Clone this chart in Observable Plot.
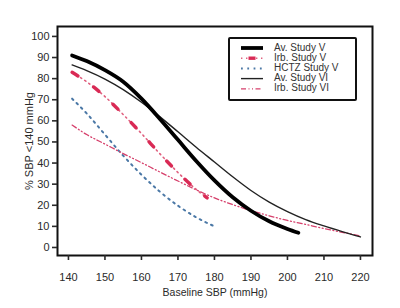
<!DOCTYPE html>
<html>
<head>
<meta charset="utf-8">
<script src="https://cdn.jsdelivr.net/npm/d3@7"></script>
<script src="https://cdn.jsdelivr.net/npm/@observablehq/plot@0.6"></script>
<style>
  body { margin: 0; background: #fff; }
  #wrap { position: relative; width: 400px; height: 308px; font-family: "Liberation Sans", Arial, sans-serif; }
  #legend { position: absolute; left: 228px; top: 37px; width: 125px; height: 60px; border: 2px solid #111; border-radius: 2px; background: #fff; }
  #legend svg { position: absolute; left: 0; top: 0; }
  #legend .lab { position: absolute; left: 44px; font-size: 10px; color: #333; line-height: 10px; white-space: nowrap; }
</style>
</head>
<body>
<div id="wrap"></div>
<script>
// Data
const xAvV   = [141, 145, 150, 155, 160, 165, 170, 175, 180, 185, 190, 195, 200, 203];
const yAvV   = [91, 88.3, 84, 78.5, 70.5, 61, 51, 41, 31.8, 23.8, 17.4, 12.4, 8.8, 7];

const xIrbV  = [141, 145, 150, 155, 160, 165, 170, 175, 178];
const yIrbV  = [83, 78.5, 71.5, 63, 54, 44.5, 35.5, 27.5, 23.5];

const xHctzV = [141, 145, 150, 155, 160, 165, 170, 175, 180];
const yHctzV = [70.5, 63.5, 53.5, 43.5, 34.5, 26.5, 19.8, 14.3, 10];

const xAvVI  = [141, 145, 150, 155, 160, 165, 170, 175, 180, 185, 190, 195, 200, 205, 210, 215, 220];
const yAvVI  = [86.5, 83.8, 79.8, 74.8, 68.8, 62, 54.8, 47.5, 40.5, 33.5, 27, 21.5, 17, 13.2, 10.2, 7.5, 5];

const xIrbVI = [141, 145, 150, 155, 160, 165, 170, 175, 180, 185, 190, 195, 200, 205, 210, 215, 220];
const yIrbVI = [58, 53.5, 49, 44.5, 40.2, 35.8, 31.5, 27.3, 23.5, 20.3, 17.5, 15, 12.8, 10.9, 9, 7.2, 5.5];

const seriesNames = ["Av. Study V", "Irb. Study V", "HCTZ Study V", "Av. Study VI", "Irb. Study VI"];
const xTicks = [140, 150, 160, 170, 180, 190, 200, 210, 220];
const yTicks = [0, 10, 20, 30, 40, 50, 60, 70, 80, 90, 100];

const styles = {
  "Av. Study V":   {stroke: "#000", strokeWidth: 3.8, strokeDasharray: null},
  "Irb. Study V":  {stroke: "#d92a55", strokeWidth: 3.4, strokeDasharray: "7 19", under: {strokeWidth: 1.6, strokeDasharray: "1.4 3.6", stroke: "#e0607f"}},
  "HCTZ Study V":  {stroke: "#4b78a6", strokeWidth: 2, strokeDasharray: "1.8 4.5"},
  "Av. Study VI":  {stroke: "#222", strokeWidth: 1.4, strokeDasharray: null},
  "Irb. Study VI": {stroke: "#d6406c", strokeWidth: 1.3, strokeDasharray: "5 2.5 1 2.5 1 2.5"}
};

const toRows = (xs, ys) => xs.map((x, i) => ({x, y: ys[i]}));
const data = {
  "Av. Study V": toRows(xAvV, yAvV),
  "Irb. Study V": toRows(xIrbV, yIrbV),
  "HCTZ Study V": toRows(xHctzV, yHctzV),
  "Av. Study VI": toRows(xAvVI, yAvVI),
  "Irb. Study VI": toRows(xIrbVI, yIrbVI)
};

const drawOrder = ["HCTZ Study V", "Irb. Study VI", "Irb. Study V", "Av. Study VI", "Av. Study V"];

const lineMarks = [];
for (const name of drawOrder) {
  const s = styles[name];
  if (s.under) {
    lineMarks.push(Plot.line(data[name], {x: "x", y: "y", curve: "monotone-x",
      stroke: s.under.stroke, strokeWidth: s.under.strokeWidth, strokeDasharray: s.under.strokeDasharray}));
  }
  lineMarks.push(Plot.line(data[name], {x: "x", y: "y", curve: "monotone-x",
    stroke: s.stroke, strokeWidth: s.strokeWidth, strokeDasharray: s.strokeDasharray}));
}

const chart = Plot.plot({
  width: 400,
  height: 308,
  marginLeft: 57,
  marginRight: 28,
  marginTop: 26,
  marginBottom: 53,
  style: {fontFamily: "'Liberation Sans', Arial, sans-serif", fontSize: "11px", color: "#2a2a2a", background: "#fff"},
  x: {domain: [137, 223.3]},
  y: {domain: [-3.8, 104.7]},
  marks: [
    ...lineMarks,
    Plot.frame({stroke: "#111", strokeWidth: 2}),
    Plot.axisX({ticks: xTicks, tickSize: 5, tickPadding: 13, strokeWidth: 1.6,
      label: null}),
    Plot.axisX({ticks: [], label: "Baseline SBP (mmHg)", labelAnchor: "center", labelArrow: "none", labelOffset: 40, fontSize: 10.5}),
    Plot.axisY({ticks: yTicks, tickSize: 5, tickPadding: 3, strokeWidth: 1.6,
      label: "% SBP <140 mmHg", labelAnchor: "center", labelArrow: "none", labelOffset: 32})
  ]
});

const wrap = document.getElementById("wrap");
wrap.appendChild(chart);

// Legend (inside plot, top-right)
const legend = document.createElement("div");
legend.id = "legend";
const rowY = [9, 19.2, 29.4, 39.6, 49.8];
let svg = `<svg width="125" height="60">`;
seriesNames.forEach((name, i) => {
  const s = styles[name];
  const y = rowY[i];
  if (name === "Irb. Study V") {
    svg += `<line x1="11" x2="33" y1="${y}" y2="${y}" stroke="${s.under.stroke}" stroke-width="${s.under.strokeWidth}" stroke-dasharray="1.4 3.6"/>`;
    svg += `<line x1="18.5" x2="25.5" y1="${y}" y2="${y}" stroke="${s.stroke}" stroke-width="${s.strokeWidth}"/>`;
  } else {
    svg += `<line x1="11" x2="33" y1="${y}" y2="${y}" stroke="${s.stroke}" stroke-width="${s.strokeWidth}"${s.strokeDasharray ? ` stroke-dasharray="${s.strokeDasharray}"` : ""}/>`;
  }
});
svg += `</svg>`;
legend.innerHTML = svg + seriesNames.map((name, i) =>
  `<div class="lab" style="top:${rowY[i] - 5.5}px">${name}</div>`).join("");
wrap.appendChild(legend);
</script>
</body>
</html>
